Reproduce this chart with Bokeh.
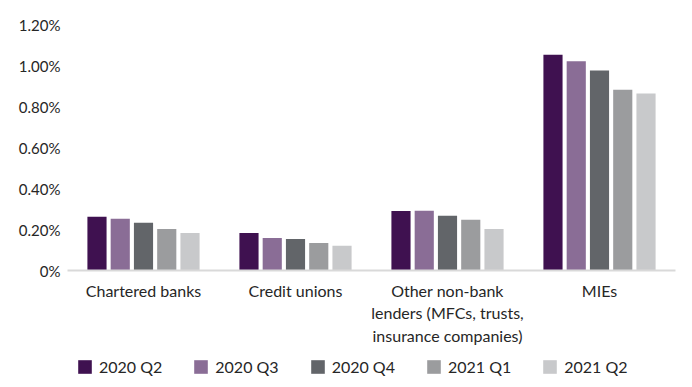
from bokeh.plotting import figure
from bokeh.layouts import column
from bokeh.models import ColumnDataSource, FactorRange, FixedTicker, Legend, LegendItem, Range1d
from bokeh.transform import dodge
from bokeh.embed import file_html
from bokeh.resources import INLINE

categories = ["Chartered banks", "Credit unions",
              "Other non-bank\nlenders (MFCs, trusts,\ninsurance companies)", "MIEs"]
series_names = ["2020 Q2", "2020 Q3", "2020 Q4", "2021 Q1", "2021 Q2"]
q2_2020 = [0.262, 0.183, 0.290, 1.052]
q3_2020 = [0.252, 0.159, 0.291, 1.021]
q4_2020 = [0.233, 0.154, 0.267, 0.976]
q1_2021 = [0.202, 0.134, 0.248, 0.882]
q2_2021 = [0.183, 0.121, 0.202, 0.864]
y_ticks = [0, 0.2, 0.4, 0.6, 0.8, 1.0, 1.2]
y_tick_labels = ["0%", "0.20%", "0.40%", "0.60%", "0.80%", "1.00%", "1.20%"]

colors = ["#3f1150", "#8a6d96", "#626569", "#9b9c9e", "#c8c9cb"]
series = [q2_2020, q3_2020, q4_2020, q1_2021, q2_2021]

FONT = "Lato"
TXT = "#262626"

source = ColumnDataSource(dict(cat=categories, **{f"s{i}": v for i, v in enumerate(series)}))

p = figure(x_range=FactorRange(*categories), y_range=Range1d(0, 1.2),
           width=692, height=350, output_backend="svg", toolbar_location=None,
           min_border_left=67, min_border_right=17, min_border_top=24, min_border_bottom=80)

slot = 0.153
for i, name in enumerate(series_names):
    p.vbar(x=dodge("cat", (i - 2) * slot, range=p.x_range), top=f"s{i}", width=0.126,
           source=source, fill_color=colors[i], line_color=None)

p.grid.visible = False
p.outline_line_color = None
p.background_fill_color = None
p.border_fill_color = "white"

p.yaxis.ticker = FixedTicker(ticks=y_ticks)
p.yaxis.major_label_overrides = {t: l for t, l in zip(y_ticks, y_tick_labels)}
p.yaxis.axis_line_color = None
p.yaxis.major_tick_line_color = None
p.yaxis.minor_tick_line_color = None
p.yaxis.major_tick_out = 0
p.yaxis.major_label_text_font = FONT
p.yaxis.major_label_text_font_size = "15px"
p.yaxis.major_label_text_color = TXT
p.yaxis.major_label_standoff = 7

p.xaxis.axis_line_color = "#d9d9d9"
p.xaxis.axis_line_width = 2
p.xaxis.major_tick_line_color = None
p.xaxis.major_tick_out = 0
p.xaxis.major_label_text_font = FONT
p.xaxis.major_label_text_font_size = "16px"
p.xaxis.major_label_text_color = TXT
p.xaxis.major_label_standoff = 10

# legend strip (its frame is aligned with the main plot's frame by the column layout)
lf = figure(width=692, height=37, output_backend="svg", toolbar_location=None,
            x_range=Range1d(0, 1), y_range=Range1d(0, 1),
            min_border_left=0, min_border_right=0, min_border_top=0, min_border_bottom=0)
lf.axis.visible = False
lf.grid.visible = False
lf.outline_line_color = None
lf.border_fill_color = "white"
lf_renderers = [lf.vbar(x=[-10], top=[0], width=0.1, fill_color=c, line_color=None) for c in colors]
legend = Legend(items=[LegendItem(label=n, renderers=[r]) for n, r in zip(series_names, lf_renderers)],
                orientation="horizontal", location=(9, 11),
                border_line_color=None, background_fill_alpha=0,
                label_text_font=FONT, label_text_font_size="16px", label_text_color=TXT,
                glyph_width=17, glyph_height=17, label_height=17, label_standoff=6,
                spacing=30, padding=0, margin=0)
lf.add_layout(legend, "center")

layout = column(p, lf, spacing=0)
open("out.html", "w").write(file_html(layout, INLINE))
